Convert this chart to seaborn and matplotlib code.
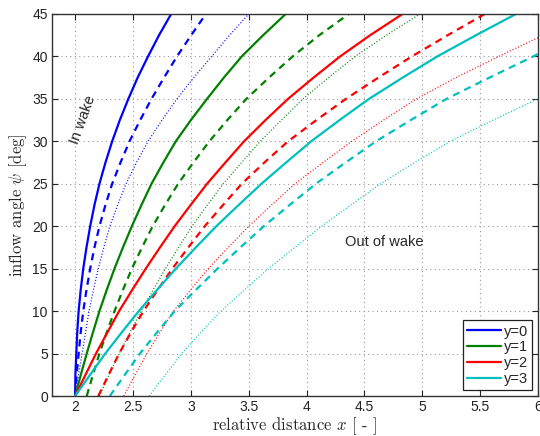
import numpy as np
import pandas as pd
import matplotlib
matplotlib.use("Agg")
import matplotlib.pyplot as plt
from matplotlib.lines import Line2D
import seaborn as sns

# inflow angle levels (deg) at which the curves are tabulated
psi_levels = [0, 2.5, 5, 7.5, 10, 12.5, 15, 17.5, 20, 22.5,
              25, 27.5, 30, 32.5, 35, 37.5, 40, 42.5, 45]

# relative distance x for each lateral offset y (solid / dashed / dotted cases)
x_y0_solid = [2.000, 2.002, 2.010, 2.018, 2.030, 2.048, 2.070, 2.098, 2.130, 2.167,
              2.210, 2.262, 2.320, 2.386, 2.460, 2.540, 2.630, 2.725, 2.830]
x_y0_dashed = [2.000, 2.013, 2.030, 2.048, 2.070, 2.098, 2.130, 2.167, 2.210, 2.262,
               2.320, 2.392, 2.470, 2.562, 2.660, 2.768, 2.880, 3.003, 3.130]
x_y0_dotted = [2.000, 2.030, 2.060, 2.090, 2.120, 2.158, 2.200, 2.248, 2.300, 2.368,
               2.440, 2.530, 2.630, 2.750, 2.880, 3.025, 3.180, 3.335, 3.500]

x_y1_solid = [2.000, 2.049, 2.100, 2.154, 2.210, 2.273, 2.340, 2.413, 2.490, 2.573,
              2.660, 2.762, 2.870, 3.000, 3.140, 3.285, 3.440, 3.625, 3.820]
x_y1_dashed = [2.100, 2.154, 2.210, 2.273, 2.340, 2.413, 2.490, 2.578, 2.670, 2.777,
               2.890, 3.022, 3.160, 3.315, 3.480, 3.675, 3.880, 4.110, 4.365]
x_y1_dotted = [2.210, 2.294, 2.380, 2.474, 2.570, 2.674, 2.780, 2.894, 3.010, 3.143,
               3.280, 3.438, 3.600, 3.783, 3.970, 4.190, 4.420, 4.690, 4.980]

x_y2_solid = [2.000, 2.089, 2.180, 2.279, 2.380, 2.493, 2.610, 2.733, 2.860, 2.998,
              3.140, 3.298, 3.460, 3.645, 3.840, 4.060, 4.290, 4.550, 4.830]
x_y2_dashed = [2.200, 2.289, 2.380, 2.483, 2.590, 2.713, 2.840, 2.978, 3.120, 3.278,
               3.440, 3.635, 3.840, 4.085, 4.340, 4.620, 4.910, 5.220, 5.540]
psi_y2_dotted = [0, 2.5, 5, 7.5, 10, 12.5, 15, 17.5, 20, 22.5,
                 25, 27.5, 30, 32.5, 35, 37.5, 40, 42.2]
x_y2_dotted = [2.420, 2.519, 2.620, 2.733, 2.850, 2.998, 3.150, 3.323, 3.500, 3.698,
               3.900, 4.142, 4.390, 4.665, 4.950, 5.290, 5.660, 6.000]

x_y3_solid = [2.000, 2.129, 2.260, 2.403, 2.550, 2.708, 2.870, 3.043, 3.220, 3.413,
              3.610, 3.823, 4.040, 4.285, 4.540, 4.830, 5.130, 5.465, 5.810]
psi_y3_dashed = [0, 2.5, 5, 7.5, 10, 12.5, 15, 17.5, 20, 22.5,
                 25, 27.5, 30, 32.5, 35, 37.5, 40, 40.3]
x_y3_dashed = [2.300, 2.429, 2.560, 2.708, 2.860, 3.043, 3.230, 3.428, 3.630, 3.853,
               4.080, 4.337, 4.600, 4.900, 5.210, 5.580, 5.960, 6.000]
psi_y3_dotted = [0, 2.5, 5, 7.5, 10, 12.5, 15, 17.5, 20, 22.5,
                 25, 27.5, 30, 32.5, 35]
x_y3_dotted = [2.640, 2.779, 2.920, 3.088, 3.260, 3.463, 3.670, 3.898, 4.130, 4.383,
               4.640, 4.935, 5.240, 5.610, 6.000]

offsets = ["y=0", "y=1", "y=2", "y=3"]
colors = ["#0000ff", "#008000", "#ff0000", "#00bfbf"]

curves = [
    (0, "solid", psi_levels, x_y0_solid), (0, "dashed", psi_levels, x_y0_dashed),
    (0, "dotted", psi_levels, x_y0_dotted),
    (1, "solid", psi_levels, x_y1_solid), (1, "dashed", psi_levels, x_y1_dashed),
    (1, "dotted", psi_levels, x_y1_dotted),
    (2, "solid", psi_levels, x_y2_solid), (2, "dashed", psi_levels, x_y2_dashed),
    (2, "dotted", psi_y2_dotted, x_y2_dotted),
    (3, "solid", psi_levels, x_y3_solid), (3, "dashed", psi_y3_dashed, x_y3_dashed),
    (3, "dotted", psi_y3_dotted, x_y3_dotted),
]

sns.set_style("ticks")
plt.rcParams["font.family"] = ["Liberation Sans", "DejaVu Sans"]
plt.rcParams["mathtext.fontset"] = "cm"

fig = plt.figure(figsize=(5.4, 4.36), dpi=100)
ax = fig.add_axes([0.0963, 0.0917, 0.9000, 0.8763])

line_styles = {
    "solid": dict(linestyle="-", linewidth=1.6),
    "dashed": dict(linestyle=(0, (3.2, 2.4)), linewidth=1.6),
    "dotted": dict(linestyle=(0, (0.8, 1.6)), linewidth=0.9),
}

for idx, kind, psi, xs in curves:
    df = pd.DataFrame({"x": xs, "psi": psi})
    sns.lineplot(data=df, x="x", y="psi", ax=ax, color=colors[idx],
                 sort=False, estimator=None, legend=False,
                 **line_styles[kind])

ax.set_xlim(1.8, 6)
ax.set_ylim(0, 45)
ax.set_xticks([2, 2.5, 3, 3.5, 4, 4.5, 5, 5.5, 6])
ax.set_xticklabels(["2", "2.5", "3", "3.5", "4", "4.5", "5", "5.5", "6"])
ax.set_yticks(np.arange(0, 46, 5))

ax.grid(True, color="#9a9a9a", linestyle=(0, (1, 3)), linewidth=0.8)
ax.tick_params(direction="in", top=True, right=True, length=4, width=0.8,
               labelsize=10, colors="#222222", pad=3)
for sp in ax.spines.values():
    sp.set_visible(True)
    sp.set_color("#333333")
    sp.set_linewidth(1.0)

ax.set_xlabel(r"relative distance $x$ [ - ]", fontsize=12, labelpad=1,
              family="cmr10")
ax.set_ylabel(r"inflow angle $\psi$ [deg]", fontsize=12, labelpad=2,
              family="cmr10")

ax.text(2.07, 32.5, "In wake", rotation=70, fontsize=10.5,
        ha="center", va="center")
ax.text(4.67, 18.1, "Out of wake", fontsize=10.5, ha="center", va="center")

handles = [Line2D([], [], color=c, linewidth=1.6) for c in colors]
leg = ax.legend(handles, offsets, loc="lower right", fontsize=10.5,
                frameon=True, fancybox=False, framealpha=1,
                edgecolor="#222222", handlelength=2.3, handletextpad=0.2,
                labelspacing=0.12, borderpad=0.3, borderaxespad=0.4)
leg.get_frame().set_linewidth(0.9)

fig.savefig("out.png", dpi=100)
